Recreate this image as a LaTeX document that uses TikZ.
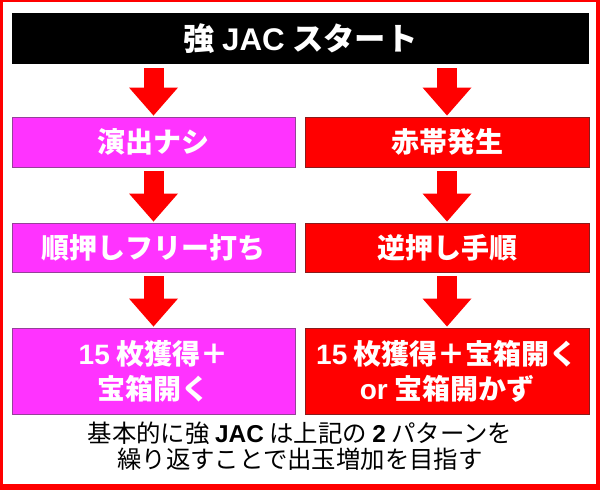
\documentclass[tikz,border=0pt]{standalone}
\usepackage{fontspec}
\setmainfont{Noto Sans CJK JP}
\newfontfamily\lat{Liberation Sans}
\usetikzlibrary{arrows.meta}
\definecolor{pinkfill}{HTML}{FF33FF}
\definecolor{pinkline}{HTML}{96409A}
\definecolor{redfill}{HTML}{FF0000}
\definecolor{redline}{HTML}{8A1C1C}

\begin{document}
\begin{tikzpicture}[x=0.75pt,y=-0.75pt,
    box/.style={inner sep=0pt,outer sep=0pt,line width=0.75pt,text=white,align=center,
        font=\bfseries\fontsize{21}{26.25}\selectfont},
    pinkbox/.style={box,draw=pinkline,fill=pinkfill,minimum width=212.25pt},
    redbox/.style={box,draw=redline,fill=redfill,minimum width=213pt},
    bigarrow/.style={draw=redfill,line width=15pt,shorten <=3pt,shorten >=1.1pt,
        -{Triangle[length=21pt,width=36.75pt,line width=0pt]}}]
    \useasboundingbox(0,0)rectangle(600,490);
    \fill[redfill](0,0)rectangle(600,490);
    \fill[white](3,2)rectangle(596,484);
    \node[box,fill=black,minimum width=432.75pt,minimum height=38.25pt,
        font=\bfseries\fontsize{23.5}{28}\selectfont] (start) at (300.5,38.5){強 {\lat JAC} スタート};
    \node[pinkbox,minimum height=37.5pt] (nashi) at (153.5,142){演出ナシ};
    \node[redbox,minimum height=37.5pt] (akaobi) at (447,142){赤帯発生};
    \node[pinkbox,minimum height=36.75pt] (junoshi) at (153.5,247.5){順押しフリー打ち};
    \node[redbox,minimum height=36.75pt] (gyakuoshi) at (447,247.5){逆押し手順};
    \node[pinkbox,minimum height=64.5pt] (kakutokuL) at (153.5,371){{\lat 15} 枚獲得＋\\宝箱開く};
    \node[redbox,minimum height=64.5pt] (kakutokuR) at (447,371){{\lat 15} 枚獲得＋宝箱開く\\{\lat or} 宝箱開かず};
    \node[align=center,font=\fontsize{18.3}{19.5}\selectfont] (memo) at (300,446)
        {基本的に強 {\bfseries\lat JAC} は上記の {\bfseries\lat 2} パターンを\\繰り返すことで出玉増加を目指す};
    \draw[bigarrow](nashi.north |- start.south)--(nashi.north);
    \draw[bigarrow](akaobi.north |- start.south)--(akaobi.north);
    \draw[bigarrow](nashi.south)--(junoshi.north);
    \draw[bigarrow](akaobi.south)--(gyakuoshi.north);
    \draw[bigarrow](junoshi.south)--(kakutokuL.north);
    \draw[bigarrow](gyakuoshi.south)--(kakutokuR.north);
\end{tikzpicture}
\end{document}
